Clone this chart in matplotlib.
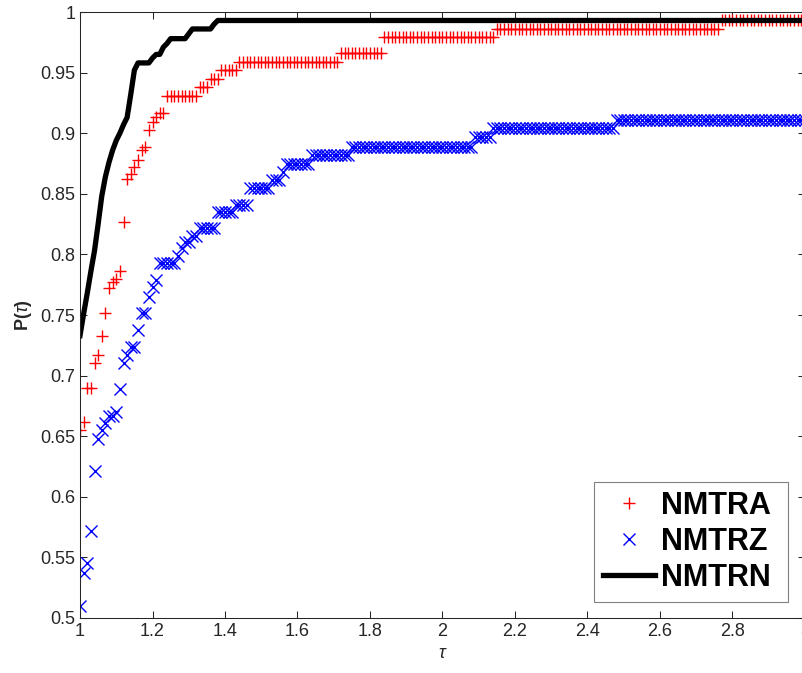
import numpy as np
import matplotlib.pyplot as plt
from matplotlib.ticker import FormatStrFormatter

plt.rcParams['font.family'] = ['Liberation Sans', 'DejaVu Sans']
plt.rcParams['mathtext.fontset'] = 'custom'
plt.rcParams['mathtext.rm'] = 'Liberation Sans'
plt.rcParams['mathtext.it'] = 'Liberation Sans:italic'
plt.rcParams['mathtext.bf'] = 'Liberation Sans:bold'

# evaluation grid of the performance profile
tau = np.round(np.arange(1.0, 3.0 + 1e-9, 0.01), 2)

# step breakpoints: value of P(tau) from that tau onward
nmtra_tau = [1.00, 1.01, 1.02, 1.04, 1.05, 1.06, 1.07, 1.08, 1.09, 1.10,
             1.11, 1.12, 1.13, 1.14, 1.15, 1.16, 1.17, 1.18, 1.19, 1.20,
             1.21, 1.22, 1.24, 1.33, 1.36, 1.39, 1.44, 1.72, 1.84, 2.15, 2.77]
nmtra_p = [0.655, 0.662, 0.690, 0.710, 0.717, 0.733, 0.752, 0.772, 0.777, 0.780,
           0.786, 0.827, 0.862, 0.866, 0.872, 0.878, 0.886, 0.889, 0.903, 0.909,
           0.913, 0.917, 0.931, 0.938, 0.945, 0.952, 0.959, 0.966, 0.979, 0.986, 0.993]

nmtrz_tau = [1.00, 1.01, 1.02, 1.03, 1.04, 1.05, 1.06, 1.07, 1.08, 1.10,
             1.11, 1.12, 1.13, 1.14, 1.16, 1.17, 1.19, 1.20, 1.21, 1.22,
             1.27, 1.28, 1.29, 1.31, 1.33, 1.38, 1.43, 1.47, 1.53, 1.56,
             1.57, 1.64, 1.75, 2.09, 2.14, 2.48]
nmtrz_p = [0.510, 0.537, 0.545, 0.572, 0.621, 0.648, 0.655, 0.661, 0.667, 0.670,
           0.689, 0.710, 0.717, 0.724, 0.738, 0.752, 0.765, 0.773, 0.779, 0.793,
           0.799, 0.805, 0.810, 0.815, 0.822, 0.835, 0.841, 0.855, 0.861, 0.868,
           0.875, 0.882, 0.889, 0.897, 0.904, 0.911]

nmtrn_tau = [1.00, 1.01, 1.02, 1.03, 1.04, 1.05, 1.06, 1.07, 1.08, 1.09,
             1.10, 1.11, 1.12, 1.13, 1.14, 1.15, 1.16, 1.20, 1.21, 1.23,
             1.24, 1.25, 1.30, 1.31, 1.37, 1.38]
nmtrn_p = [0.733, 0.751, 0.768, 0.786, 0.803, 0.825, 0.848, 0.864, 0.876, 0.886,
           0.894, 0.900, 0.907, 0.913, 0.932, 0.952, 0.958, 0.962, 0.965, 0.971,
           0.974, 0.978, 0.982, 0.986, 0.990, 0.993]


def profile(bp_tau, bp_p):
    idx = np.searchsorted(bp_tau, tau + 1e-9, side='right') - 1
    return np.asarray(bp_p)[idx]


fig = plt.figure(figsize=(8.03, 6.73), dpi=100)
ax = fig.add_axes([80 / 803, 55 / 673, 725 / 803, 606 / 673])

ax.plot(tau, profile(nmtra_tau, nmtra_p), '+', color='r', ms=9, mew=1, label='NMTRA')
ax.plot(tau, profile(nmtrz_tau, nmtrz_p), 'x', color='b', ms=9, mew=1, label='NMTRZ')
ax.plot(tau, profile(nmtrn_tau, nmtrn_p), '-', color='k', lw=3.8, label='NMTRN')

ax.set_xlim(1, 3)
ax.set_ylim(0.5, 1)
ax.set_xticks(np.arange(1, 3.001, 0.2))
ax.set_yticks(np.arange(0.5, 1.001, 0.05))
ax.xaxis.set_major_formatter(FormatStrFormatter('%g'))
ax.yaxis.set_major_formatter(FormatStrFormatter('%g'))
ax.tick_params(direction='in', top=True, right=True, length=5, width=0.75,
               colors='#262626', labelsize=13)
for s in ax.spines.values():
    s.set_linewidth(0.75)
    s.set_color('#262626')

ax.set_xlabel(r'$\tau$', fontsize=13, color='#262626')
ax.set_ylabel(r'$\mathbf{P(}\tau\mathbf{)}$', fontsize=13, color='#262626')

leg = ax.legend(loc='lower right', bbox_to_anchor=(0.977, 0.026), borderaxespad=0,
                prop=dict(weight='bold', size=22), fancybox=False, framealpha=1,
                edgecolor='#808080', handlelength=1.7, handletextpad=0.2,
                labelspacing=0.2, borderpad=0.3)
leg.get_frame().set_linewidth(0.8)
# leave a little room after the labels, like the original box
for t in leg.get_texts():
    t.set_text(t.get_text() + ' ')

fig.savefig('out.png', dpi=100)
